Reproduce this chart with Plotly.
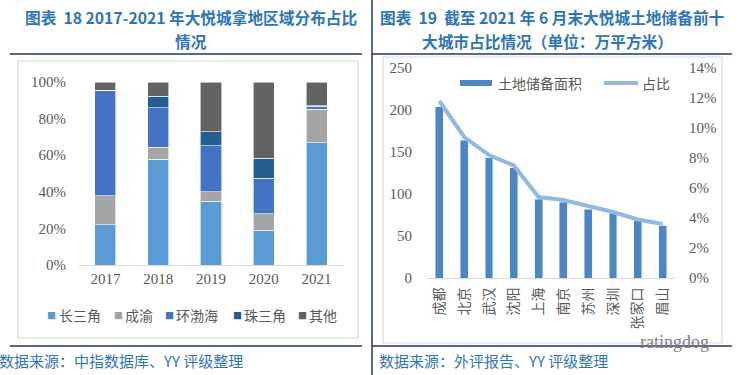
import plotly.graph_objects as go

# ---------------- data ----------------
years = ["2017", "2018", "2019", "2020", "2021"]
region_names = ["长三角", "成渝", "环渤海", "珠三角", "其他"]
share_yrd = [0.220, 0.577, 0.348, 0.191, 0.667]
share_chengyu = [0.158, 0.066, 0.052, 0.090, 0.185]
share_huanbohai = [0.577, 0.215, 0.252, 0.193, 0.015]
share_zhusanjiao = [0.000, 0.065, 0.076, 0.108, 0.004]
share_other = [0.045, 0.077, 0.272, 0.418, 0.129]
left_ticks = [0, 0.2, 0.4, 0.6, 0.8, 1.0]

cities = ["成都", "北京", "武汉", "沈阳", "上海", "南京", "苏州", "深圳", "张家口", "眉山"]
land_area = [204, 164, 143, 131, 94, 90, 82, 77, 68, 62]
land_share = [0.118, 0.094, 0.082, 0.075, 0.054, 0.052, 0.048, 0.044, 0.039, 0.036]
area_ticks = [0, 50, 100, 150, 200, 250]
pct_ticks = [0, 0.02, 0.04, 0.06, 0.08, 0.10, 0.12, 0.14]

# ---------------- styles ----------------
W, H = 738, 375
def px(x): return x / W
def py(y): return 1 - y / H

region_colors = ["#5B9BD5", "#A5A5A5", "#4472C4", "#255E91", "#636363"]
region_values = [share_yrd, share_chengyu, share_huanbohai, share_zhusanjiao, share_other]
legend_sq_x = [52, 118, 169, 237, 302]   # pixel positions of manual legend squares
BAR2 = "#4E86C2"
LINE2 = "#93B8E3"
TICK = "#595959"
NAVY = "#1F3864"
BLUE_TXT = "#2E75B6"
SERIF = "Liberation Serif, Times New Roman, serif"
CJK = "Noto Sans CJK SC, sans-serif"

fig = go.Figure()

for name, vals, col in zip(region_names, region_values, region_colors):
    fig.add_trace(go.Bar(
        x=years, y=vals, name=name, width=0.4, showlegend=False,
        marker=dict(color=col, line=dict(color="white", width=0.6)),
        xaxis="x", yaxis="y",
    ))

fig.add_trace(go.Bar(
    x=cities, y=land_area, name="土地储备面积", width=0.32, showlegend=False,
    marker=dict(color=BAR2),
    xaxis="x2", yaxis="y2",
))
fig.add_trace(go.Scatter(
    x=cities, y=land_share, name="占比", mode="lines", showlegend=False,
    line=dict(color=LINE2, width=4),
    xaxis="x2", yaxis="y3",
))

shapes = []
# chart boxes
shapes.append(dict(type="rect", xref="paper", yref="paper",
                   x0=px(18), x1=px(358), y0=py(338), y1=py(61),
                   line=dict(color="#D9D9D9", width=1.2)))
shapes.append(dict(type="rect", xref="paper", yref="paper",
                   x0=px(383), x1=px(722), y0=py(343), y1=py(57),
                   line=dict(color="#D9D9D9", width=1.2)))
# navy rules
for (x0, x1, y) in [(10, 362, 54), (372, 732, 54), (10, 362, 346), (372, 732, 346)]:
    shapes.append(dict(type="line", xref="paper", yref="paper",
                       x0=px(x0), x1=px(x1), y0=py(y), y1=py(y),
                       line=dict(color=NAVY, width=1.5)))
shapes.append(dict(type="line", xref="paper", yref="paper",
                   x0=px(372), x1=px(372), y0=0, y1=1,
                   line=dict(color=NAVY, width=1.5)))
# legend swatches of the right chart
shapes.append(dict(type="rect", xref="paper", yref="paper",
                   x0=px(460), x1=px(492), y0=py(86), y1=py(80),
                   fillcolor=BAR2, line=dict(width=0)))
shapes.append(dict(type="line", xref="paper", yref="paper",
                   x0=px(604), x1=px(638), y0=py(83), y1=py(83),
                   line=dict(color=LINE2, width=4)))

annotations = []
def add_text(text, x, y, size, color, family, bold=False, xanchor="center"):
    annotations.append(dict(
        text=("<b>%s</b>" % text) if bold else text,
        x=px(x), y=py(y), xref="paper", yref="paper",
        xanchor=xanchor, yanchor="middle", showarrow=False,
        font=dict(size=size, color=color, family=family)))

add_text("图表  18 2017-2021 年大悦城拿地区域分布占比", 191, 17, 15.7, BLUE_TXT, CJK, True)
add_text("情况", 191, 42, 15.7, BLUE_TXT, CJK, True)
add_text("图表  19  截至 2021 年 6 月末大悦城土地储备前十", 552, 17, 15.7, BLUE_TXT, CJK, True)
add_text("大城市占比情况（单位：万平方米）", 547, 42, 15.7, BLUE_TXT, CJK, True)
add_text("数据来源：中指数据库、YY 评级整理", -3, 360, 15, BLUE_TXT, CJK, False, "left")
add_text("数据来源：外评报告、YY 评级整理", 377, 360, 15, BLUE_TXT, CJK, False, "left")
add_text("ratingdog", 674, 342, 18, "#7F7F7F", SERIF)

# manual legend for the left chart (coloured square + label)
for name, col, sx in zip(region_names, region_colors, legend_sq_x):
    add_text("■", sx, 315, 9, col, CJK)
    add_text(name, sx + 5, 315, 14, TICK, CJK, False, "left")
# legend labels for the right chart
add_text("土地储备面积", 496, 83, 14, TICK, CJK, False, "left")
add_text("占比", 640, 83, 14, TICK, CJK, False, "left")

fig.update_layout(
    width=W, height=H, autosize=False,
    margin=dict(l=0, r=0, t=0, b=0, autoexpand=False),
    paper_bgcolor="white", plot_bgcolor="white",
    barmode="stack", showlegend=False,
    shapes=shapes, annotations=annotations,
    xaxis=dict(domain=[px(79), px(343)], range=[-0.5, 4.5], type="category",
               showline=True, linecolor="#D9D9D9", linewidth=1, ticks="",
               showgrid=False, tickfont=dict(family=SERIF, size=15, color=TICK),
               anchor="y"),
    yaxis=dict(domain=[py(265), py(82)], range=[0, 1], tickvals=left_ticks,
               tickformat=".0%", showgrid=False, showline=False, zeroline=False,
               ticks="", ticklabelstandoff=12,
               tickfont=dict(family=SERIF, size=15, color=TICK), anchor="x"),
    xaxis2=dict(domain=[px(427), px(675)], range=[-0.5, 9.5], type="category",
                showline=True, linecolor="#D9D9D9", linewidth=1, ticks="",
                showgrid=False, tickangle=-90, ticklabelstandoff=3,
                tickfont=dict(family=CJK, size=14, color=TICK), anchor="y2"),
    yaxis2=dict(domain=[py(278), py(68)], range=[0, 250], tickvals=area_ticks,
                showgrid=False, showline=False, zeroline=False, ticks="",
                ticklabelstandoff=14,
                tickfont=dict(family=SERIF, size=15, color=TICK), anchor="x2"),
    yaxis3=dict(domain=[py(278), py(68)], range=[0, 0.14], tickvals=pct_ticks,
                tickformat=".0%", overlaying="y2", side="right",
                showgrid=False, showline=False, zeroline=False, ticks="",
                ticklabelstandoff=13,
                tickfont=dict(family=SERIF, size=15, color=TICK), anchor="x2"),
)

fig.write_html("out.html",
               config={"displayModeBar": False},
               post_script="document.body.style.margin='0';document.body.style.overflow='hidden';")
